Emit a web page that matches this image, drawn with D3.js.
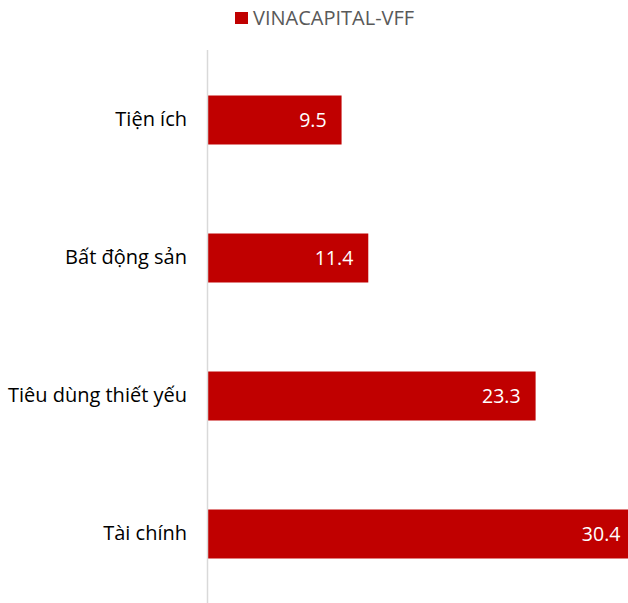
<!DOCTYPE html>
<html lang="vi">
<head>
  <meta charset="UTF-8" />
  <title>VINACAPITAL-VFF</title>
  <script src="https://d3js.org/d3.v7.min.js"></script>
  <style>
    html, body { margin: 0; padding: 0; background: #fff; overflow: hidden; }
    text { font-family: "Open Sans", "Noto Sans", sans-serif; }
  </style>
</head>
<body>
  <div id="chart"></div>
  <script>
    var seriesName = 'VINACAPITAL-VFF';
    var categories = ['Tiện ích', 'Bất động sản', 'Tiêu dùng thiết yếu', 'Tài chính'];
    var values = [9.5, 11.4, 23.3, 30.4];

    var width = 628, height = 603;
    var x0 = 208;

    var svg = d3.select('#chart')
      .append('svg')
      .attr('width', width)
      .attr('height', height);

    var xScale = d3.scaleLinear()
      .domain([0, 10])
      .range([x0, x0 + 140.6]);

    var yScale = d3.scaleBand()
      .domain(categories)
      .range([51, 603])
      .paddingInner(0.645)
      .paddingOuter(0.3225);

    // bars
    svg.selectAll('rect.bar')
      .data(values)
      .enter()
      .append('rect')
      .attr('class', 'bar')
      .attr('x', xScale(0))
      .attr('y', (d, i) => yScale(categories[i]))
      .attr('width', d => xScale(d) - xScale(0))
      .attr('height', yScale.bandwidth())
      .attr('fill', '#C00000');

    // value labels
    svg.selectAll('text.value')
      .data(values)
      .enter()
      .append('text')
      .attr('class', 'value')
      .attr('x', d => xScale(d) - 15)
      .attr('y', (d, i) => yScale(categories[i]) + yScale.bandwidth() / 2)
      .attr('dy', '0.36em')
      .attr('text-anchor', 'end')
      .attr('fill', '#fff')
      .attr('font-size', 19.5)
      .text(d => d.toFixed(1));

    // category axis
    var yAxis = svg.append('g')
      .attr('transform', 'translate(' + x0 + ',0)')
      .call(d3.axisLeft(yScale).tickSize(0).tickPadding(21));
    yAxis.select('.domain').remove();
    yAxis.selectAll('text')
      .attr('font-size', 20)
      .attr('fill', '#000')
      .style('font-family', '"Open Sans", "Noto Sans", sans-serif');

    svg.append('line')
      .attr('x1', x0 - 0.5).attr('x2', x0 - 0.5)
      .attr('y1', 50).attr('y2', height)
      .attr('stroke', '#d9d9d9')
      .attr('stroke-width', 1.5);

    // legend
    var legend = svg.append('g').attr('transform', 'translate(235,12)');
    legend.append('rect')
      .attr('width', 13).attr('height', 12)
      .attr('fill', '#C00000');
    legend.append('text')
      .attr('x', 18).attr('y', 6)
      .attr('dy', '0.36em')
      .attr('font-size', 20)
      .attr('fill', '#595959')
      .text(seriesName);
  </script>
</body>
</html>
